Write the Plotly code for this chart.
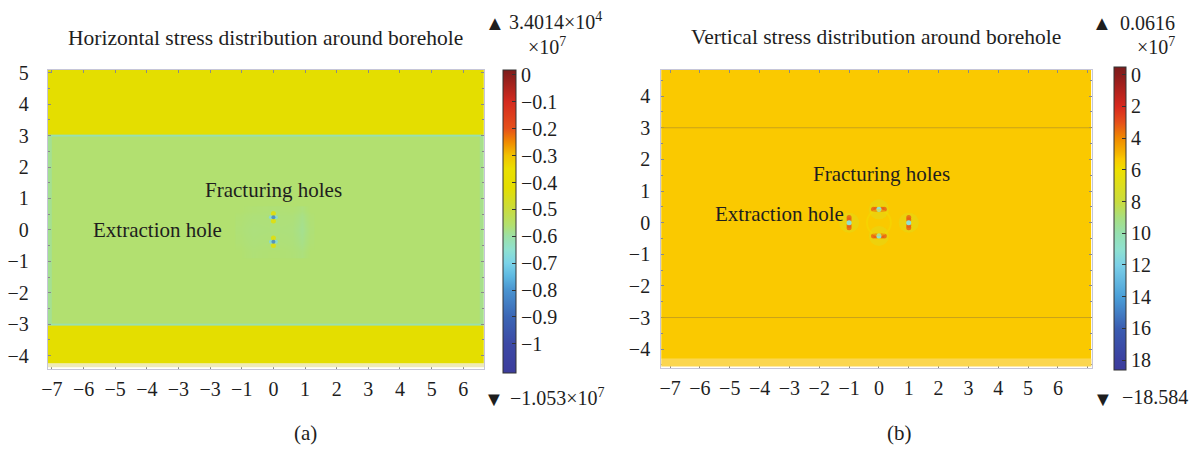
import plotly.graph_objects as go

# ---------------- Panel (a): horizontal stress, units of 1e7 Pa ----------------
h_x_edges = [-7.13, -6.99, 6.52, 6.66]
h_y_edges = [-4.25, -3.03, -2.97, 2.97, 3.03, 5.10]
h_layer_stress = [
    [-0.42, -0.42, -0.42],   # lower rock layer
    [-0.61, -0.61, -0.61],   # lower interface
    [-0.585, -0.56, -0.58],  # coal seam
    [-0.61, -0.61, -0.61],   # upper interface
    [-0.42, -0.42, -0.42],   # upper rock layer
]
# disturbed zone around the boreholes
h_zone_x = [-1.2, -0.9, -0.4, 0.4, 0.8, 1.0, 1.3]
h_zone_y = [-0.9, -0.45, 0.45, 0.75]
h_zone_stress = [
    [-0.56, -0.565, -0.562, -0.565, -0.57, -0.56],
    [-0.565, -0.57, -0.568, -0.57, -0.585, -0.565],
    [-0.56, -0.563, -0.565, -0.563, -0.57, -0.56],
]
h_hole_x = [0.0, 0.0]
h_hole_y = [0.40, -0.38]
h_lobe_stress = -0.40
h_flank_stress = -0.68
h_core_stress = -0.84

h_cbar_values = [0.018, -0.1, -0.2, -0.25, -0.3, -0.35, -0.42, -0.5, -0.56,
                 -0.6, -0.65, -0.7, -0.75, -0.8, -0.9, -1.0, -1.109]
h_cbar_colors = ["#7b1c1c", "#d42a1f", "#e6501a", "#f08a00", "#f1c200", "#eadf00",
                 "#e4de00", "#c9dc3e", "#b2e070", "#9ce0a6", "#8fe1d0", "#7bd3e8",
                 "#5db8e1", "#4a94d0", "#3b66b5", "#3c49a5", "#3c3c9c"]
h_tick_vals = [0, -0.1, -0.2, -0.3, -0.4, -0.5, -0.6, -0.7, -0.8, -0.9, -1.0]
h_tick_text = ["0", "−0.1", "−0.2", "−0.3", "−0.4", "−0.5", "−0.6", "−0.7",
               "−0.8", "−0.9", "−1"]
h_x_ticks = [-7, -6, -5, -4, -3, -2, -1, 0, 1, 2, 3, 4, 5, 6]
h_x_labels = ["−7", "−6", "−5", "−4", "−3", "−3", "−1", "0", "1", "2", "3", "4", "5", "6"]
h_y_ticks = [-4, -3, -2, -1, 0, 1, 2, 3, 4, 5]
h_y_labels = ["−4", "−3", "−2", "−1", "0", "1", "2", "3", "4", "5"]

# ---------------- Panel (b): vertical stress, units of 1e7 Pa ----------------
v_x_edges = [-7.3, 7.13]
v_y_edges = [-4.3, 4.83]
v_field_stress = [[-5.3]]
v_interfaces = [3.0, -3.0]
v_frac_x = [0.0, 0.0]
v_frac_y = [0.42, -0.42]
v_extr_x = [-1.0, 1.0]
v_extr_y = [0.0, 0.0]
v_lobe_stress = -3.2
v_core_stress = -11.0
v_halo_stress = -7.0

v_cbar_values = [0.5, 0.0, -2, -3, -4, -5, -5.3, -6, -8, -9, -10, -11, -12,
                 -14, -16, -18, -18.6]
v_cbar_colors = ["#7b1c1c", "#8a1c1c", "#d8281e", "#e6501a", "#f08a00", "#f5b800",
                 "#fac900", "#eee000", "#c9dc3e", "#a8df80", "#96e0b0", "#8fe1d0",
                 "#7bd0e8", "#4a9fd8", "#3a5cb0", "#3c40a0", "#3c3c9c"]
v_tick_vals = [0, -2, -4, -6, -8, -10, -12, -14, -16, -18]
v_tick_text = ["0", "2", "4", "6", "8", "10", "12", "14", "16", "18"]
v_x_ticks = [-7, -6, -5, -4, -3, -2, -1, 0, 1, 2, 3, 4, 5, 6]
v_x_labels = ["−7", "−6", "−5", "−4", "−3", "−2", "−1", "0", "1", "2", "3", "4", "5", "6"]
v_y_ticks = [-4, -3, -2, -1, 0, 1, 2, 3, 4]
v_y_labels = ["−4", "−3", "−2", "−1", "0", "1", "2", "3", "4"]

W, H = 1195, 449
SERIF = "Liberation Serif, Times New Roman, serif"
INK = "#1e1e1e"


def scale_from(values, colors):
    lo, hi = min(values), max(values)
    pairs = sorted(((v - lo) / (hi - lo), c) for v, c in zip(values, colors))
    return [[round(p, 5), c] for p, c in pairs]


h_scale = scale_from(h_cbar_values, h_cbar_colors)
v_scale = scale_from(v_cbar_values, v_cbar_colors)
h_lim = dict(zmin=min(h_cbar_values), zmax=max(h_cbar_values))
v_lim = dict(zmin=min(v_cbar_values), zmax=max(v_cbar_values))


def px_x(p):
    return p / W


def px_y(p):
    return 1 - p / H


fig = go.Figure()

cbar_common = dict(
    thickness=13, thicknessmode="pixels", lenmode="fraction",
    outlinecolor="#333", outlinewidth=1, ticks="inside", ticklen=4,
    tickcolor="#333", tickfont=dict(family=SERIF, size=20, color=INK),
    xanchor="left", yanchor="middle", tickmode="array", xpad=0, ypad=0,
)

# panel (a) field
fig.add_trace(go.Heatmap(
    x=h_x_edges, y=h_y_edges, z=h_layer_stress, colorscale=h_scale, **h_lim,
    xaxis="x", yaxis="y", hoverinfo="skip",
    colorbar=dict(cbar_common, x=px_x(499), y=px_y((63 + 372) / 2),
                  len=(372 - 63) / H, tickvals=h_tick_vals, ticktext=h_tick_text),
))
fig.add_trace(go.Heatmap(
    x=h_zone_x, y=h_zone_y, z=h_zone_stress, colorscale=h_scale, **h_lim,
    xaxis="x", yaxis="y", showscale=False, hoverinfo="skip", zsmooth="best",
))

# panel (a) boreholes: lobes above/below, flanks, core
h_mx, h_my, h_mv, h_ms = [], [], [], []
for hx, hy in zip(h_hole_x, h_hole_y):
    for dy in (0.12, -0.12):
        h_mx.append(hx); h_my.append(hy + dy); h_mv.append(h_lobe_stress); h_ms.append(5)
    for dx in (0.08, -0.08):
        h_mx.append(hx + dx); h_my.append(hy); h_mv.append(h_flank_stress); h_ms.append(4)
    h_mx.append(hx); h_my.append(hy); h_mv.append(h_core_stress); h_ms.append(4)
fig.add_trace(go.Scatter(
    x=h_mx, y=h_my, mode="markers", xaxis="x", yaxis="y", hoverinfo="skip",
    marker=dict(color=h_mv, colorscale=h_scale, cmin=h_lim["zmin"], cmax=h_lim["zmax"],
                size=h_ms, line=dict(width=0), opacity=0.8),
    showlegend=False,
))

# panel (b) field
fig.add_trace(go.Heatmap(
    x=v_x_edges, y=v_y_edges, z=v_field_stress, colorscale=v_scale, **v_lim,
    xaxis="x2", yaxis="y2", hoverinfo="skip",
    colorbar=dict(cbar_common, x=px_x(1114), y=px_y((60 + 368) / 2), thickness=12,
                  len=(368 - 60) / H, tickvals=v_tick_vals, ticktext=v_tick_text),
))

# panel (b) boreholes: soft halo, red lobes, cyan core
v_mx, v_my, v_mv, v_ms, v_op = [], [], [], [], []
for hx, hy in zip(v_frac_x + v_extr_x, v_frac_y + v_extr_y):
    v_mx.append(hx); v_my.append(hy); v_mv.append(v_halo_stress); v_ms.append(20); v_op.append(0.4)
for hx, hy in zip(v_frac_x, v_frac_y):
    for dx in (0.18, 0.1, -0.1, -0.18):
        v_mx.append(hx + dx); v_my.append(hy); v_mv.append(v_lobe_stress); v_ms.append(5); v_op.append(0.8)
for hx, hy in zip(v_extr_x, v_extr_y):
    for dy in (0.16, 0.09, -0.09, -0.16):
        v_mx.append(hx); v_my.append(hy + dy); v_mv.append(v_lobe_stress); v_ms.append(5); v_op.append(0.8)
for hx, hy in zip(v_frac_x + v_extr_x, v_frac_y + v_extr_y):
    v_mx.append(hx); v_my.append(hy); v_mv.append(v_core_stress); v_ms.append(5); v_op.append(1.0)
fig.add_trace(go.Scatter(
    x=v_mx, y=v_my, mode="markers", xaxis="x2", yaxis="y2", hoverinfo="skip",
    marker=dict(color=v_mv, colorscale=v_scale, cmin=v_lim["zmin"], cmax=v_lim["zmax"],
                size=v_ms, opacity=v_op, line=dict(width=0)),
    showlegend=False,
))

shapes = []
# rock/coal interfaces in panel (b)
for yi in v_interfaces:
    shapes.append(dict(type="line", xref="x2", yref="y2", x0=v_x_edges[0], x1=v_x_edges[-1],
                       y0=yi, y1=yi, line=dict(color="#c9a21a", width=1)))
# pale model boundary strips
shapes.append(dict(type="rect", xref="x", yref="y", x0=h_x_edges[0], x1=h_x_edges[-1],
                   y0=-4.37, y1=h_y_edges[0], fillcolor="#eeeab8", line=dict(width=0)))
shapes.append(dict(type="rect", xref="x2", yref="y2", x0=v_x_edges[0], x1=v_x_edges[-1],
                   y0=-4.55, y1=v_y_edges[0], fillcolor="#fbd650", line=dict(width=0)))
# stress ring between the boreholes
shapes.append(dict(type="circle", xref="x2", yref="y2", x0=-0.4, x1=0.4, y0=-0.4, y1=0.4,
                   line=dict(color="#f3e000", width=2), opacity=0.4))

axis_common = dict(
    showgrid=False, zeroline=False, showline=True, linecolor="#c6c6d8", linewidth=1,
    mirror="ticks", ticks="inside", ticklen=3, tickcolor="#8a8a8a",
    tickfont=dict(family=SERIF, size=20, color=INK), tickmode="array",
)
minor_y = dict(ticks="inside", ticklen=2, tickcolor="#8a8a8a", dtick=0.5)

fig.update_layout(
    width=W, height=H, margin=dict(l=0, r=0, t=0, b=0),
    paper_bgcolor="white", plot_bgcolor="white", showlegend=False,
    xaxis=dict(axis_common, domain=[px_x(41), px_x(480)], range=[-7.13, 6.66],
               tickvals=h_x_ticks, ticktext=h_x_labels, anchor="y", ticklabelstandoff=2),
    yaxis=dict(axis_common, domain=[px_y(368), px_y(63)], range=[-4.44, 5.09],
               tickvals=h_y_ticks, ticktext=h_y_labels, anchor="x", ticklabelstandoff=14,
               minor=minor_y),
    xaxis2=dict(axis_common, domain=[px_x(658), px_x(1091)], range=[-7.3, 7.13],
                tickvals=v_x_ticks, ticktext=v_x_labels, anchor="y2", ticklabelstandoff=2,
                minor=dict(ticks="inside", ticklen=3, tickcolor="#8a8a8a", dtick=1)),
    yaxis2=dict(axis_common, domain=[px_y(367), px_y(63)], range=[-4.61, 4.83],
                tickvals=v_y_ticks, ticktext=v_y_labels, anchor="x2", ticklabelstandoff=6,
                minor=minor_y),
    shapes=shapes,
)

txt = dict(family=SERIF, size=21, color=INK)
small = dict(family=SERIF, size=20, color=INK)
big = dict(family=SERIF, size=21.5, color=INK)
notes = [
    # titles
    dict(text="Horizontal stress distribution around borehole", x=px_x(260), y=px_y(31),
         xref="paper", yref="paper", font=big),
    dict(text="Vertical stress distribution around borehole", x=px_x(874), y=px_y(30),
         xref="paper", yref="paper", font=big),
    # colour range annotations, panel (a)
    dict(text="▲", x=px_x(491), y=px_y(15), xref="paper", yref="paper", font=small),
    dict(text="3.4014×10<sup>4</sup>", x=px_x(503), y=px_y(13), xref="paper", yref="paper",
         xanchor="left", font=small),
    dict(text="×10<sup>7</sup>", x=px_x(543), y=px_y(39), xref="paper", yref="paper", font=small),
    dict(text="▼", x=px_x(490), y=px_y(398), xref="paper", yref="paper", font=small),
    dict(text="−1.053×10<sup>7</sup>", x=px_x(504), y=px_y(396), xref="paper", yref="paper",
         xanchor="left", font=small),
    # colour range annotations, panel (b)
    dict(text="▲", x=px_x(1101), y=px_y(15), xref="paper", yref="paper", font=small),
    dict(text="0.0616", x=px_x(1118), y=px_y(15), xref="paper", yref="paper",
         xanchor="left", font=small),
    dict(text="×10<sup>7</sup>", x=px_x(1156), y=px_y(39), xref="paper", yref="paper", font=small),
    dict(text="▼", x=px_x(1102), y=px_y(398), xref="paper", yref="paper", font=small),
    dict(text="−18.584", x=px_x(1190), y=px_y(396), xref="paper", yref="paper",
         xanchor="right", font=small),
    # panel letters
    dict(text="(a)", x=px_x(300), y=px_y(433), xref="paper", yref="paper", font=txt),
    dict(text="(b)", x=px_x(898), y=px_y(433), xref="paper", yref="paper", font=txt),
    # in-plot labels
    dict(text="Fracturing holes", x=0.0, y=1.28, xref="x", yref="y", font=txt),
    dict(text="Extraction hole", x=-3.67, y=0.0, xref="x", yref="y", font=txt),
    dict(text="Fracturing holes", x=0.07, y=1.54, xref="x2", yref="y2", font=txt),
    dict(text="Extraction hole", x=-3.33, y=0.26, xref="x2", yref="y2", font=txt),
]
for n in notes:
    n.setdefault("showarrow", False)
    n.setdefault("xanchor", "center")
    n.setdefault("yanchor", "middle")
fig.update_layout(annotations=notes)

fig.write_html("out.html")
